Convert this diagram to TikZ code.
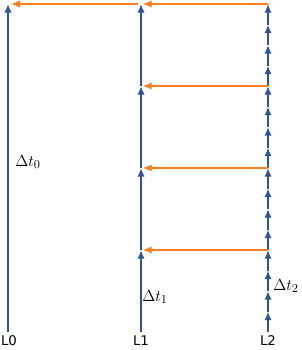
\documentclass[tikz,border=0pt]{standalone}
\usepackage{fontspec}
\newfontfamily\lanefont{DejaVu Sans}
\usepackage{xcolor}
\usepackage{tikz}
\usetikzlibrary{arrows.meta}
\definecolor{laneblue}{HTML}{2F5597}
\definecolor{sendorange}{HTML}{FF7F1E}

\begin{document}
\begin{tikzpicture}[>=Latex,x=0.75pt,y=-0.75pt,
    tick/.style={line width=1.3pt,laneblue,-{Latex[length=6.5pt,width=5.5pt]}},
    send/.style={line width=1.3pt,sendorange,-{Latex[length=7pt,width=5.5pt]}},
    lane/.style={font=\lanefont\fontsize{10}{12}\selectfont,inner sep=0pt},
    dt/.style={font=\fontsize{13}{15}\selectfont,inner sep=0pt,anchor=west}]
  \useasboundingbox (0,0) rectangle (302,350);
  % points on the three lines
  \coordinate (l0-0) at (8,332);
  \coordinate (l0-1) at (8,4);
  \foreach \j in {0,...,4}
    \coordinate (l1-\j) at (141,332-82*\j);
  \foreach \k in {0,...,16}
    \coordinate (l2-\k) at (268,332-20.5*\k);
  % blue steps
  \draw[tick] (l0-0) -- (l0-1);
  \foreach \j in {0,...,3} {
    \pgfmathtruncatemacro\n{\j+1}
    \draw[tick] (l1-\j) -- (l1-\n);
  }
  \foreach \k in {0,...,15} {
    \pgfmathtruncatemacro\n{\k+1}
    \draw[tick] (l2-\k) -- (l2-\n);
  }
  % orange hand-overs
  \foreach \j in {1,...,4} {
    \pgfmathtruncatemacro\k{4*\j}
    \draw[send] (l2-\k) -- ([xshift=1pt]l1-\j);
  }
  \draw[send] ([xshift=-2pt]l1-4) -- ([xshift=2pt]l0-1);
  % labels
  \node[lane] (lab0) at (9,341) {L0};
  \node[lane] (lab1) at (141,341) {L1};
  \node[lane] (lab2) at (268,341) {L2};
  \node[dt] (dt0) at (15,162) {$\Delta t_0$};
  \node[dt] (dt1) at (142,297) {$\Delta t_1$};
  \node[dt] (dt2) at (273,286) {$\Delta t_2$};
\end{tikzpicture}
\end{document}
